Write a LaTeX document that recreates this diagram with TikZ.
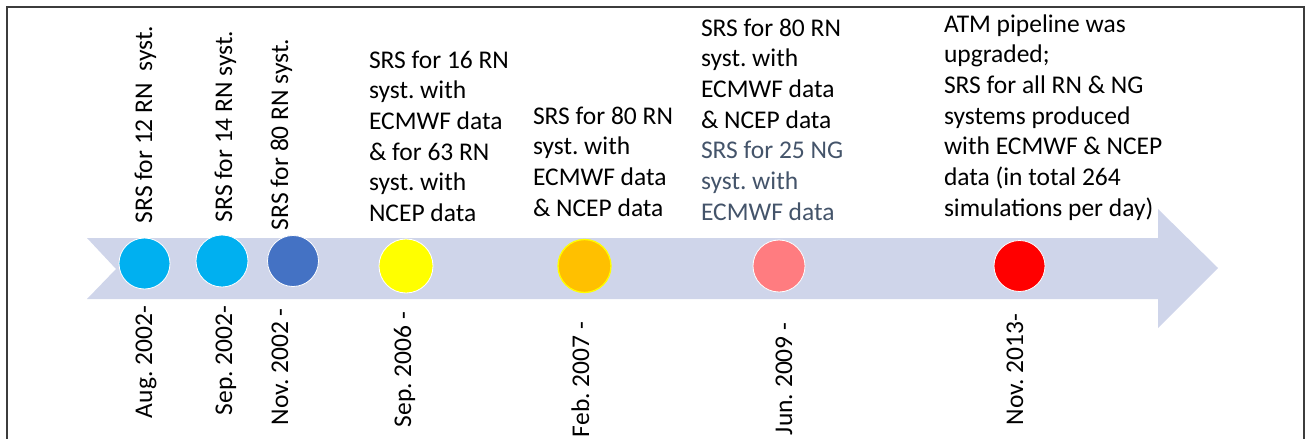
\documentclass[tikz,border=0pt]{standalone}
\usepackage{fontspec}
\setmainfont{Carlito}
\frenchspacing
\definecolor{band}{RGB}{207,213,234}
\definecolor{cyanA}{RGB}{0,176,240}
\definecolor{blueA}{RGB}{68,114,196}
\definecolor{yellowA}{RGB}{255,255,0}
\definecolor{orangeA}{RGB}{255,192,0}
\definecolor{pinkA}{RGB}{255,124,128}
\definecolor{redA}{RGB}{255,0,0}
\definecolor{slateA}{RGB}{68,84,106}
\definecolor{frameA}{RGB}{60,60,60}
\begin{document}
\frenchspacing
\begin{tikzpicture}[x=1pt,y=-1pt,
  txt/.style={inner sep=0pt,outer sep=0pt,font=\fontsize{25.5}{30.7}\selectfont\frenchspacing},
  block/.style={txt,align=left,anchor=north west},
  vtxt/.style={txt,rotate=90,anchor=base west},
  dot/.style={circle,inner sep=0pt,draw=white,line width=0.8pt}]
\useasboundingbox (0,0) rectangle (1310,439);
% frame
\draw[frameA,line width=1.2pt] (7,460) -- (7,7) -- (1304,7) -- (1304,460);
% arrow band
\fill[band] (87,238) -- (1158,238) -- (1158,209) -- (1218,268) -- (1158,328)
  -- (1158,299) -- (87,299) -- (116,269) -- cycle;
% circles
\node[dot,fill=cyanA,minimum size=51pt] (c1) at (144.5,263.5) {};
\node[dot,fill=cyanA,minimum size=52pt] (c2) at (222,261) {};
\node[dot,fill=blueA,minimum size=51pt] (c3) at (293,261) {};
\node[dot,fill=yellowA,minimum size=54pt] (c4) at (406,266) {};
\node[dot,fill=orangeA,draw=yellowA,line width=1.3pt,minimum size=53pt] (c5) at (584.5,266) {};
\node[dot,fill=pinkA,minimum size=52pt] (c6) at (779,266) {};
\node[dot,fill=redA,minimum size=51pt] (c7) at (1019.5,266) {};
% top rotated labels
\node[vtxt] (t1) at (152,223) {SRS for 12 RN~~syst.};
\node[vtxt] (t2) at (232,222) {SRS for 14 RN syst.};
\node[vtxt] (t3) at (288,230) {SRS for 80 RN syst.};
% top text blocks
\node[block] (t4) at (369,48) {\rule{0pt}{20pt}SRS for 16 RN\\syst. with\\ECMWF data\\\& for 63 RN\\syst. with\\NCEP data};
\node[block] (t5) at (533,104) {\rule{0pt}{20pt}SRS for 80 RN\\syst. with\\ECMWF data\\\& NCEP data};
\node[block] (t6) at (701,16) {\rule{0pt}{20pt}SRS for 80 RN\\syst. with\\ECMWF data\\\& NCEP data\\\textcolor{slateA}{SRS for 25 NG}\\\textcolor{slateA}{syst. with}\\\textcolor{slateA}{ECMWF data}};
\node[block] (t7) at (944,12) {\rule{0pt}{20pt}ATM pipeline was\\upgraded;\\SRS for all RN \& NG\\systems produced\\with ECMWF \& NCEP\\data (in total 264\\simulations per day)};
% date labels
\node[vtxt] (d1) at (152,418) {Aug. 2002-};
\node[vtxt] (d2) at (232,415) {Sep. 2002-};
\node[vtxt] (d3) at (288,425) {Nov. 2002 -};
\node[vtxt] (d4) at (411,427) {Sep. 2006 -};
\node[vtxt] (d5) at (589,437) {Feb. 2007 -};
\node[vtxt] (d6) at (792,435) {Jun. 2009 -};
\node[vtxt] (d7) at (1023,425) {Nov. 2013-};
\end{tikzpicture}
\end{document}
